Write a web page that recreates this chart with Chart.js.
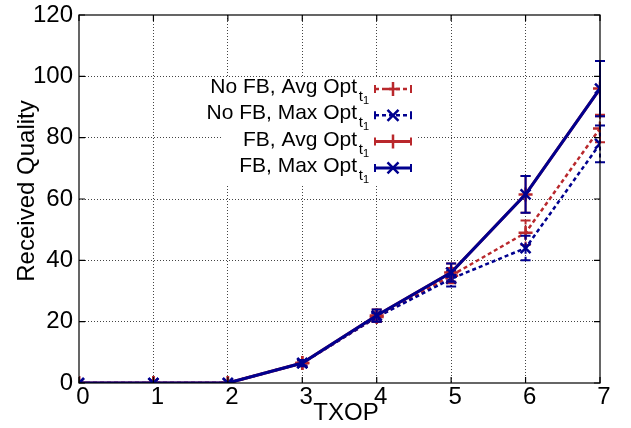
<!DOCTYPE html>
<html>
<head>
<meta charset="utf-8">
<script src="https://cdn.jsdelivr.net/npm/chart.js@4"></script>
<style>
  html, body { margin: 0; padding: 0; background: #fff; }
  #wrap { width: 631px; height: 428px; }
</style>
</head>
<body>
<div id="wrap"><canvas id="c" width="631" height="428"></canvas></div>
<script>
// values
const txop = [0, 1, 2, 3, 4, 5, 6, 7];
const noFbAvg = [0, 0, 0, 6.5, 21.5, 35, 49, 83];
const noFbAvgErr = [0, 0, 0, 0.8, 1.5, 2.5, 4, 4.5];
const noFbMax = [0, 0, 0, 6.5, 21.5, 34, 44, 78];
const noFbMaxErr = [0, 0, 0, 0.8, 1.5, 2.5, 4, 6];
const fbAvg = [0, 0, 0, 6.5, 22, 36, 61.5, 96];
const fbAvgErr = [0, 0, 0, 1, 2, 3, 6, 9];
const fbMax = [0, 0, 0, 6.5, 22, 36, 61.5, 96];
const fbMaxErr = [0, 0, 0, 1, 2, 3, 6, 9];
const yTicks = [0, 20, 40, 60, 80, 100, 120];

const RED = '#b9282c';
const BLUE = '#00008f';
const FONT = '"Liberation Sans", Arial, Helvetica, sans-serif';

function pts(vals) {
  return txop.map((x, i) => ({ x: x, y: vals[i] }));
}

function series(label, vals, err, color, dashed, style, order) {
  return {
    label: label,
    data: pts(vals),
    err: err,
    borderColor: color,
    backgroundColor: color,
    borderWidth: dashed ? 2.5 : 3,
    borderDash: dashed ? [4, 3] : [],
    pointStyle: style,
    pointRadius: 7,
    pointBorderWidth: 2.5,
    pointBorderColor: color,
    tension: 0,
    order: order
  };
}

const datasets = [
  series('No FB, Avg Opt', noFbAvg, noFbAvgErr, RED, true, 'cross', 3),
  series('No FB, Max Opt', noFbMax, noFbMaxErr, BLUE, true, 'crossRot', 2),
  series('FB, Avg Opt', fbAvg, fbAvgErr, RED, false, 'cross', 1),
  series('FB, Max Opt', fbMax, fbMaxErr, BLUE, false, 'crossRot', 0)
];

// error bars, drawn with each series
const errorBars = {
  id: 'errorBars',
  afterDatasetDraw(chart, args) {
    const ds = chart.data.datasets[args.index];
    const xs = chart.scales.x, ys = chart.scales.y;
    const ctx = chart.ctx;
    ctx.save();
    ctx.strokeStyle = ds.borderColor;
    ctx.lineWidth = 2;
    ctx.setLineDash(ds.borderDash);
    ds.data.forEach((p, i) => {
      const e = ds.err[i];
      if (!e) return;
      const px = xs.getPixelForValue(p.x);
      const top = ys.getPixelForValue(p.y + e);
      const bot = ys.getPixelForValue(p.y - e);
      ctx.beginPath();
      ctx.moveTo(px, top); ctx.lineTo(px, bot);
      ctx.stroke();
      ctx.setLineDash([]);
      ctx.beginPath();
      ctx.moveTo(px - 5, top); ctx.lineTo(px + 5, top);
      ctx.moveTo(px - 5, bot); ctx.lineTo(px + 5, bot);
      ctx.stroke();
      ctx.setLineDash(ds.borderDash);
    });
    ctx.restore();
  }
};

// frame, inward ticks, axis titles and the key
const decor = {
  id: 'decor',
  afterDraw(chart) {
    const ctx = chart.ctx;
    const a = chart.chartArea;
    const xs = chart.scales.x, ys = chart.scales.y;
    ctx.save();
    ctx.setLineDash([]);
    ctx.strokeStyle = '#000';
    ctx.lineWidth = 1.2;
    ctx.strokeRect(a.left, a.top, a.right - a.left, a.bottom - a.top);
    ctx.beginPath();
    txop.forEach(v => {
      const px = xs.getPixelForValue(v);
      ctx.moveTo(px, a.bottom); ctx.lineTo(px, a.bottom - 6);
      ctx.moveTo(px, a.top); ctx.lineTo(px, a.top + 6);
    });
    yTicks.forEach(v => {
      const py = ys.getPixelForValue(v);
      ctx.moveTo(a.left, py); ctx.lineTo(a.left + 6, py);
      ctx.moveTo(a.right, py); ctx.lineTo(a.right - 6, py);
    });
    ctx.stroke();

    // axis titles
    ctx.fillStyle = '#000';
    ctx.font = '24px ' + FONT;
    ctx.textAlign = 'center';
    ctx.textBaseline = 'alphabetic';
    ctx.fillText('TXOP', 346, 420);
    ctx.save();
    ctx.translate(34, 191);
    ctx.rotate(-Math.PI / 2);
    ctx.fillText('Received Quality', 0, 0);
    ctx.restore();

    // key
    ctx.fillStyle = '#fff';
    ctx.fillRect(222, 78, 196, 108);
    const x1 = 375, x2 = 411, xm = 393;
    datasets.forEach((ds, i) => {
      const base = 93 + i * 26.3;
      const sy = base - 4;
      ctx.fillStyle = '#000';
      ctx.font = '15px ' + FONT;
      ctx.textAlign = 'right';
      ctx.fillText('t', 363, base + 8);
      ctx.font = '11px ' + FONT;
      ctx.fillText('1', 369, base + 11);
      const subW = 11;
      ctx.font = '21px ' + FONT;
      ctx.fillText(ds.label, 368 - subW, base);

      ctx.strokeStyle = ds.borderColor;
      ctx.lineWidth = ds.borderWidth;
      ctx.setLineDash(ds.borderDash);
      ctx.beginPath();
      ctx.moveTo(x1, sy); ctx.lineTo(x2, sy);
      ctx.stroke();
      ctx.setLineDash([]);
      ctx.lineWidth = 2;
      ctx.beginPath();
      ctx.moveTo(x1, sy - 4); ctx.lineTo(x1, sy + 4);
      ctx.moveTo(x2, sy - 4); ctx.lineTo(x2, sy + 4);
      ctx.stroke();
      ctx.lineWidth = 2.5;
      ctx.beginPath();
      if (ds.pointStyle === 'cross') {
        ctx.moveTo(xm - 7, sy); ctx.lineTo(xm + 7, sy);
        ctx.moveTo(xm, sy - 7); ctx.lineTo(xm, sy + 7);
      } else {
        ctx.moveTo(xm - 5.5, sy - 5.5); ctx.lineTo(xm + 5.5, sy + 5.5);
        ctx.moveTo(xm - 5.5, sy + 5.5); ctx.lineTo(xm + 5.5, sy - 5.5);
      }
      ctx.stroke();
    });
    ctx.restore();
  }
};

const gridColor = (edges) => (c) => (edges.includes(c.tick.value) ? 'rgba(0,0,0,0)' : '#444');

new Chart(document.getElementById('c'), {
  type: 'line',
  data: { datasets: datasets },
  options: {
    responsive: false,
    animation: false,
    layout: { padding: { top: 15, right: 31, left: 0, bottom: 0 } },
    plugins: { legend: { display: false }, tooltip: { enabled: false } },
    scales: {
      x: {
        type: 'linear',
        min: 0, max: 7,
        ticks: { stepSize: 1, color: '#000', font: { size: 24, family: FONT }, padding: 0, labelOffset: 4, maxRotation: 0 },
        grid: { color: gridColor([0, 7]), lineWidth: 1, drawTicks: false },
        border: { display: false, dash: [1, 2] },
        afterFit(s) { s.height = 45; s.paddingLeft = 0; s.paddingRight = 0; }
      },
      y: {
        min: 0, max: 120,
        ticks: { stepSize: 20, color: '#000', font: { size: 24, family: FONT }, padding: 6 },
        grid: { color: gridColor([0, 120]), lineWidth: 1, drawTicks: false },
        border: { display: false, dash: [1, 2] },
        afterFit(s) { s.width = 79; s.paddingTop = 0; s.paddingBottom = 0; }
      }
    }
  },
  plugins: [errorBars, decor]
});
</script>
</body>
</html>
